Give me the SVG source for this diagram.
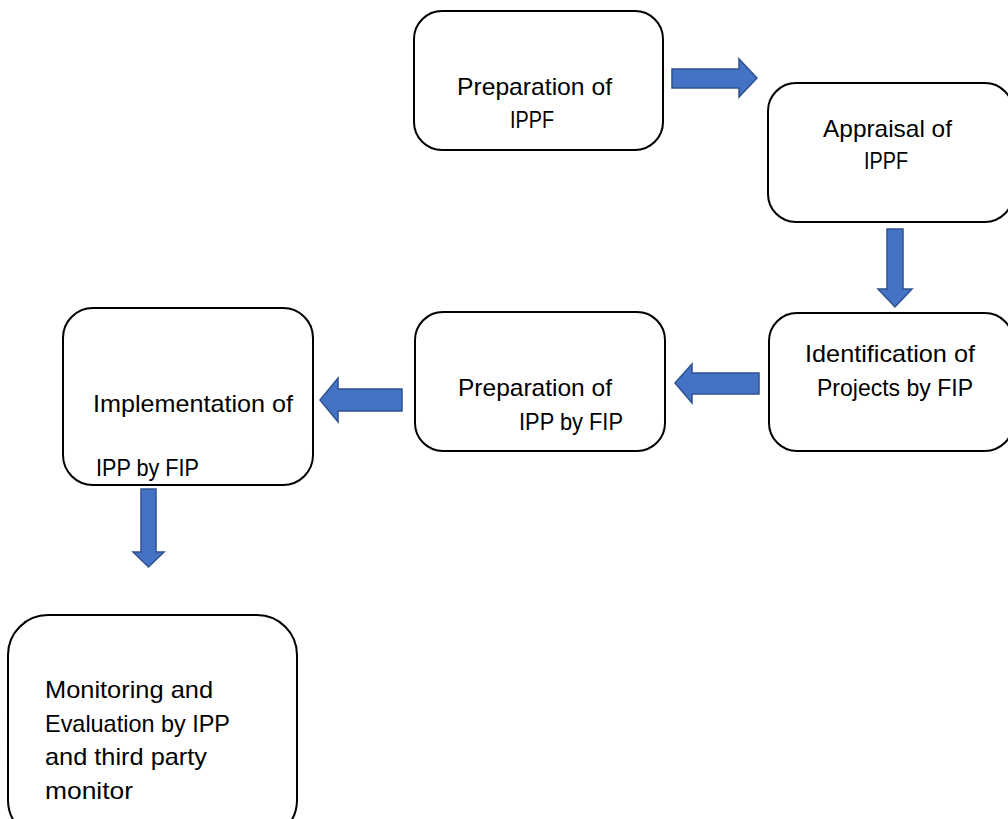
<svg xmlns="http://www.w3.org/2000/svg" width="1008" height="819" viewBox="0 0 1008 819">
<style>
.box{fill:#fff;stroke:#000;stroke-width:2}
.arr{fill:#4472C4;stroke:#2F528F;stroke-width:1.5;stroke-linejoin:miter}
text{font-family:"Liberation Sans",Arial,sans-serif;font-size:24px;fill:#000}
</style>
<rect width="1008" height="819" fill="#fff"/>
<g id="n1"><rect class="box" x="414" y="11" width="249" height="139" rx="28"/>
<text x="457" y="95" textLength="155" lengthAdjust="spacingAndGlyphs">Preparation of</text>
<text x="510" y="128" textLength="44" lengthAdjust="spacingAndGlyphs">IPPF</text></g>
<g id="n2"><rect class="box" x="768" y="83" width="245" height="139" rx="28"/>
<text x="823" y="137" textLength="129" lengthAdjust="spacingAndGlyphs">Appraisal of</text>
<text x="864" y="169" textLength="44" lengthAdjust="spacingAndGlyphs">IPPF</text></g>
<g id="n3"><rect class="box" x="769" y="313" width="244" height="138" rx="28"/>
<text x="805" y="362" textLength="170" lengthAdjust="spacingAndGlyphs">Identification of</text>
<text x="817" y="396" textLength="156" lengthAdjust="spacingAndGlyphs">Projects by FIP</text></g>
<g id="n4"><rect class="box" x="415" y="312" width="250" height="139" rx="28"/>
<text x="458" y="396" textLength="154" lengthAdjust="spacingAndGlyphs">Preparation of</text>
<text x="519" y="430" textLength="104" lengthAdjust="spacingAndGlyphs">IPP by FIP</text></g>
<g id="n5"><rect class="box" x="63" y="308" width="250" height="177" rx="30"/>
<text x="93" y="412" textLength="200" lengthAdjust="spacingAndGlyphs">Implementation of</text>
<text x="96" y="476" textLength="103" lengthAdjust="spacingAndGlyphs">IPP by FIP</text></g>
<g id="n6"><rect class="box" x="8" y="615" width="289" height="225" rx="40"/>
<text x="45" y="698" textLength="168" lengthAdjust="spacingAndGlyphs">Monitoring and</text>
<text x="45" y="732" textLength="185" lengthAdjust="spacingAndGlyphs">Evaluation by IPP</text>
<text x="45" y="765" textLength="162" lengthAdjust="spacingAndGlyphs">and third party</text>
<text x="45" y="799" textLength="88" lengthAdjust="spacingAndGlyphs">monitor</text></g>
<g id="connectors">
<polygon class="arr" points="672,69 739,69 739,59 757,78 739,97 739,88 672,88"/>
<polygon class="arr" points="887,229 903,229 903,289 912,289 895,307 878,289 887,289"/>
<polygon class="arr" points="759,373 692,373 692,364 675,383 692,403 692,394 759,394"/>
<polygon class="arr" points="402,389 338,389 338,378 320,400 338,422 338,411 402,411"/>
<polygon class="arr" points="141,489 156,489 156,552 164,552 148.5,567 133,552 141,552"/>
</g>
</svg>
